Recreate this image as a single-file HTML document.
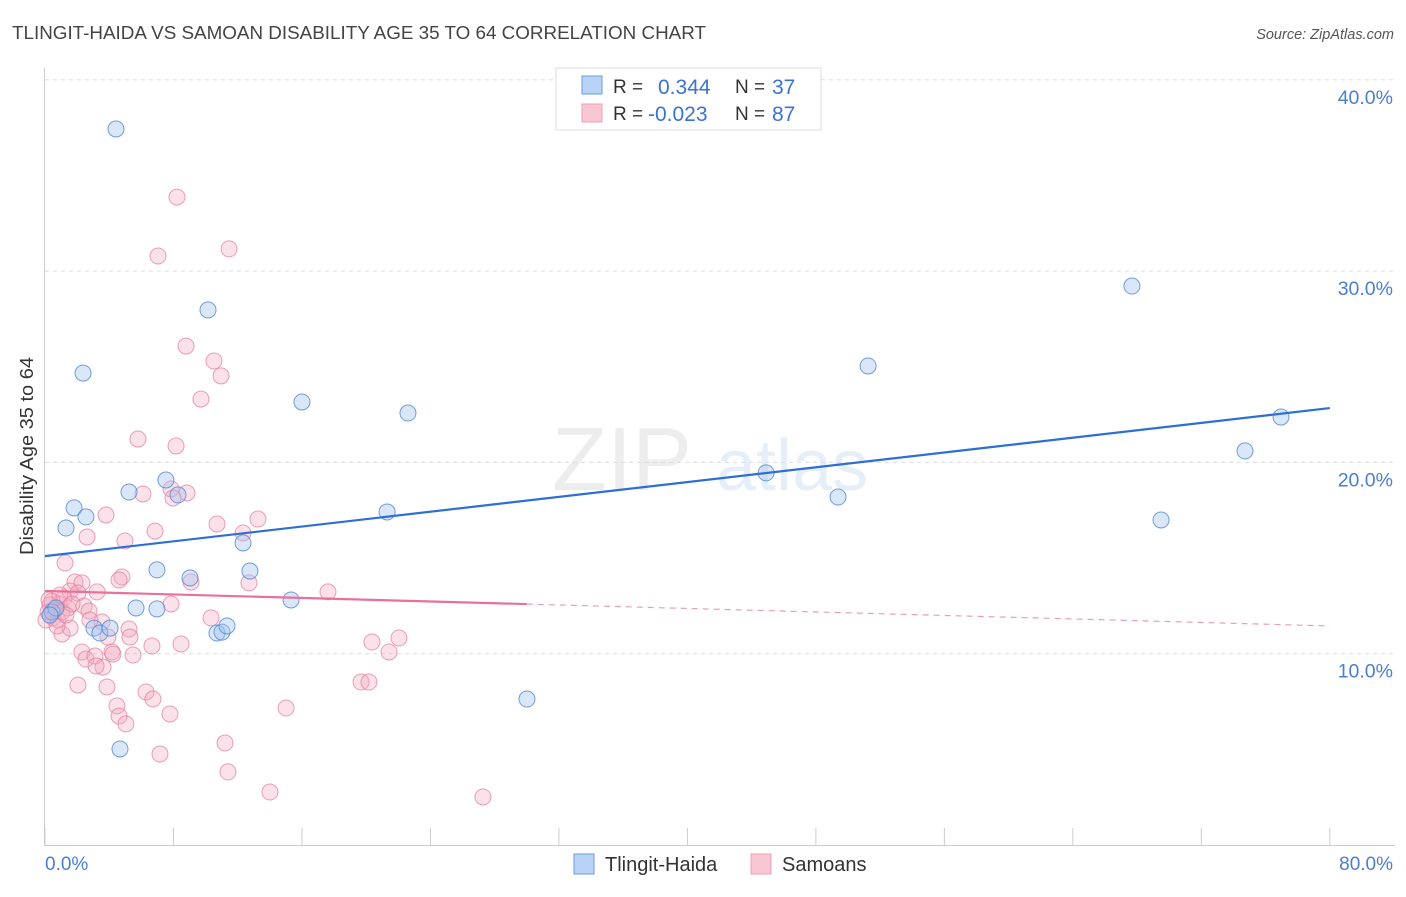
<!DOCTYPE html>
<html><head><meta charset="utf-8"><style>
body{margin:0;background:#fff;font-family:"Liberation Sans",sans-serif}
svg text{font-family:"Liberation Sans",sans-serif}
</style></head><body>
<svg id="chart" width="1406" height="892" viewBox="0 0 1406 892">
<text x="12" y="39" font-size="18" fill="#444" textLength="694" lengthAdjust="spacingAndGlyphs">TLINGIT-HAIDA VS SAMOAN DISABILITY AGE 35 TO 64 CORRELATION CHART</text>
<text x="1394" y="39" font-size="14.5" fill="#555" text-anchor="end" font-style="italic">Source: ZipAtlas.com</text>
<g id="grid"></g>
<g opacity="0.5">
<text x="552" y="490" font-size="90" fill="#ddd" font-family="Liberation Serif">ZIP</text>
<text x="716" y="490" font-size="72" fill="#cfe0f5">atlas</text>
</g>
<line x1="44.5" y1="68" x2="44.5" y2="845" stroke="#ccc"/>
<line x1="44" y1="845.5" x2="1395" y2="845.5" stroke="#ccc"/>
<g id="ticks"></g>
<g id="marks"></g>
<text transform="translate(33,456) rotate(-90)" font-size="18" fill="#333" text-anchor="middle" textLength="198" lengthAdjust="spacingAndGlyphs">Disability Age 35 to 64</text>
<text x="45" y="870" font-size="19" fill="#4a7fd0">0.0%</text>
<text x="1393" y="870" font-size="19" fill="#4a7fd0" text-anchor="end">80.0%</text>
<g>
<rect x="556" y="68" width="265" height="62" fill="#fff" stroke="#ddd"/>
<rect x="582" y="76" width="20" height="18" fill="#b8d3f5" stroke="#6b9de0"/>
<rect x="582" y="104" width="20" height="18" fill="#f9c7d4" stroke="#eaa0b6"/>
<text x="613" y="93" font-size="19" fill="#333">R =</text><text x="658" y="94" font-size="21" fill="#3a73d0">0.344</text>
<text x="735" y="93" font-size="19" fill="#333">N =</text><text x="772" y="94" font-size="21" fill="#3a73d0">37</text>
<text x="613" y="120" font-size="19" fill="#333">R =</text><text x="648" y="121" font-size="21" fill="#3a73d0">-0.023</text>
<text x="735" y="120" font-size="19" fill="#333">N =</text><text x="772" y="121" font-size="21" fill="#3a73d0">87</text>
</g>
<g>
<rect x="574" y="854" width="20" height="20" fill="#b8d3f5" stroke="#6b9de0"/>
<text x="605" y="871" font-size="20" fill="#333">Tlingit-Haida</text>
<rect x="751" y="854" width="20" height="20" fill="#f9c7d4" stroke="#eaa0b6"/>
<text x="782" y="871" font-size="20" fill="#333">Samoans</text>
</g>
</svg>
<script>
const blueX=[4.42,2.37,10.15,16.0,22.6,5.23,7.53,8.28,1.81,2.55,1.31,12.33,6.97,9.03,12.76,5.67,6.97,15.32,21.3,3.05,3.42,4.05,10.71,11.02,11.33,4.67,30.01,44.9,49.38,51.25,67.68,69.49,74.72,76.96,0.44,0.68,0.31];
const blueY=[37.43,24.67,27.97,23.16,22.58,18.45,19.08,18.30,17.62,17.15,16.57,15.79,14.38,13.96,14.32,12.39,12.34,12.81,17.41,11.34,11.08,11.34,11.08,11.13,11.45,5.02,7.63,19.45,18.19,25.04,29.22,16.99,20.6,22.37,12.18,12.39,12.02];
const pinkX=[8.22,7.04,11.46,8.78,10.52,10.96,9.71,5.79,8.16,6.10,7.85,8.84,7.97,10.71,13.26,3.80,12.33,6.85,2.62,4.98,1.25,4.79,4.61,1.87,2.30,9.09,12.70,17.62,3.24,1.56,2.05,1.18,0.87,0.44,0.62,1.43,2.43,2.74,7.85,10.34,3.55,2.80,5.23,1.06,3.92,1.56,5.29,6.66,20.36,22.04,21.42,8.47,2.30,2.55,4.17,3.11,3.61,5.48,3.18,4.23,2.05,3.86,6.29,6.72,7.78,4.48,4.61,5.04,15.01,19.68,20.17,11.21,7.16,11.39,14.01,27.27,0.31,0.19,0.50,0.06,0.81,1.06,0.25,0.93,1.68,0.75,1.31];
const pinkY=[33.87,30.79,31.16,26.08,25.3,24.52,23.31,21.22,20.86,18.35,18.61,18.40,18.14,16.78,17.04,17.25,16.31,16.41,16.10,15.89,14.74,14.01,13.85,13.75,13.70,13.75,13.70,13.23,13.23,13.28,13.17,12.91,12.60,12.75,12.28,12.39,12.49,12.23,12.60,11.87,11.66,11.76,11.29,11.03,10.87,11.34,10.87,10.40,10.61,10.82,10.09,10.51,10.09,9.72,10.09,9.88,9.30,9.93,9.36,9.98,8.36,8.26,8.00,7.63,6.85,7.27,6.74,6.33,7.16,8.52,8.52,5.33,4.76,3.82,2.77,2.51,12.55,12.18,11.87,11.76,11.76,12.18,12.81,13.07,12.60,11.45,12.02];
const yTicks=[10,20,30,40];
const yTickLabels=["10.0%","20.0%","30.0%","40.0%"];
const xTicks=[0,8,16,24,32,40,48,56,64,72,80];
const blueTrend=[15.1,22.84];
const pinkTrend=[13.28,11.45];
const pinkSolidEnd=30;

const NS="http://www.w3.org/2000/svg";
const sx=v=>45+v*16.06;
const sy=v=>845-v*19.13;
function mk(tag,attrs,parent){const e=document.createElementNS(NS,tag);for(const k in attrs)e.setAttribute(k,attrs[k]);parent.appendChild(e);return e;}
const grid=document.getElementById('grid'),ticks=document.getElementById('ticks'),marks=document.getElementById('marks');
yTicks.forEach((t,i)=>{
  const l=mk('line',{x1:45,x2:1395,y1:sy(t),y2:sy(t),stroke:'#ddd','stroke-dasharray':'4,4'},grid);
  
  
  const tx=mk('text',{x:1393,y:sy(t)+24,'font-size':19.5,fill:'#4a7fd0','text-anchor':'end'},grid);
  tx.textContent=yTickLabels[i];
  
  
});
xTicks.forEach(t=>{
  const l=mk('line',{x1:sx(t),x2:sx(t),y1:828,y2:845,stroke:'#ccc'},ticks);
  
  
});
pinkX.forEach((x,i)=>{
  const c=mk('circle',{cx:sx(x),cy:sy(pinkY[i]),r:8,fill:'rgba(244,170,192,0.35)',stroke:'rgba(228,130,160,0.75)','stroke-width':1},marks);
  
  
});
blueX.forEach((x,i)=>{
  const c=mk('circle',{cx:sx(x),cy:sy(blueY[i]),r:8,fill:'rgba(160,195,240,0.4)',stroke:'rgba(80,135,215,0.8)','stroke-width':1},marks);
  
  
});
const bl=mk('line',{x1:sx(0),y1:sy(blueTrend[0]),x2:sx(80),y2:sy(blueTrend[1]),stroke:'#2d6fd2','stroke-width':2.2},marks);


const pm=pinkTrend[0]+(pinkTrend[1]-pinkTrend[0])*pinkSolidEnd/80;
const pl=mk('line',{x1:sx(0),y1:sy(pinkTrend[0]),x2:sx(pinkSolidEnd),y2:sy(pm),stroke:'#e8709a','stroke-width':2.2},marks);


const pd=mk('line',{x1:sx(pinkSolidEnd),y1:sy(pm),x2:sx(80),y2:sy(pinkTrend[1]),stroke:'#e8a0b8','stroke-width':1.2,'stroke-dasharray':'6,5'},marks);


</script>
</body></html>
